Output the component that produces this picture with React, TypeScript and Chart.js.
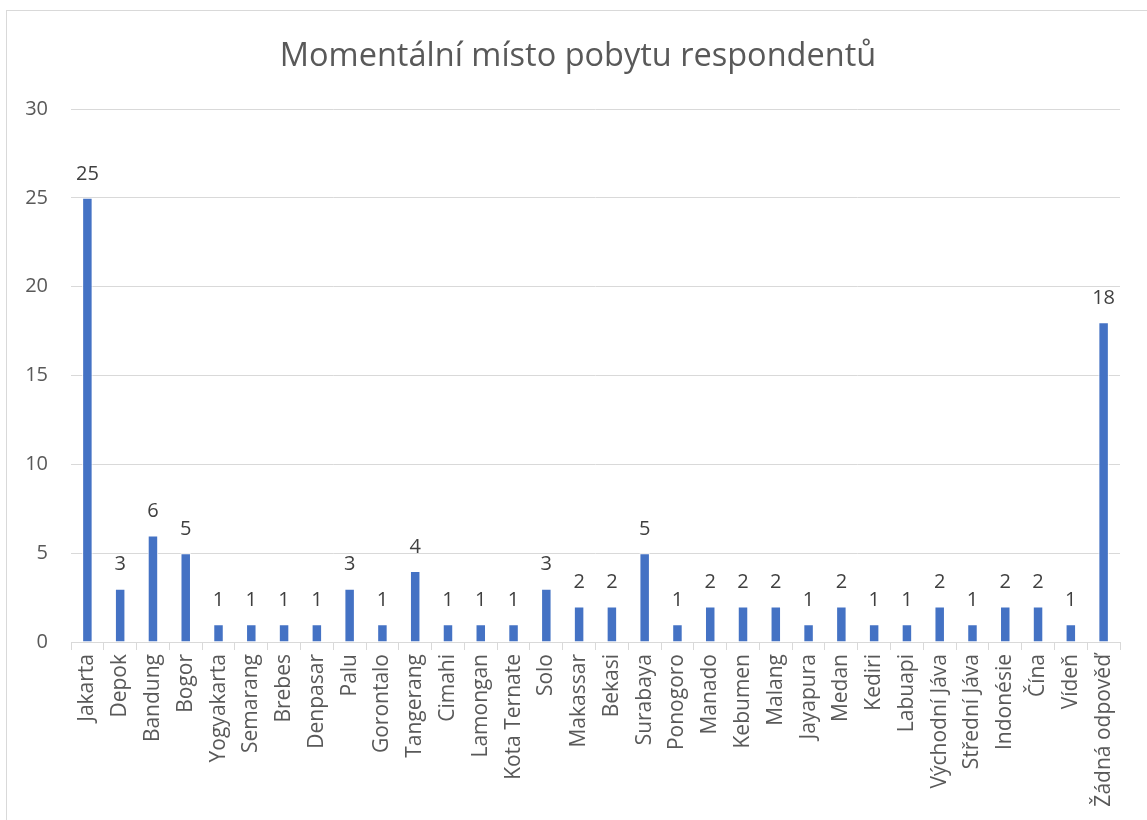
import React, { useEffect, useRef } from "react";
import { Chart, registerables } from "chart.js";

Chart.register(...registerables);

const categories = [
  "Jakarta", "Depok", "Bandung", "Bogor", "Yogyakarta", "Semarang", "Brebes", "Denpasar",
  "Palu", "Gorontalo", "Tangerang", "Cimahi", "Lamongan", "Kota Ternate", "Solo", "Makassar",
  "Bekasi", "Surabaya", "Ponogoro", "Manado", "Kebumen", "Malang", "Jayapura", "Medan",
  "Kediri", "Labuapi", "Východní Jáva", "Střední Jáva", "Indonésie", "Čína", "Vídeň", "Žádná odpověď",
];
const counts = [
  25, 3, 6, 5, 1, 1, 1, 1,
  3, 1, 4, 1, 1, 1, 3, 2,
  2, 5, 1, 2, 2, 2, 1, 2,
  1, 1, 2, 1, 2, 2, 1, 18,
];
const yTicks = [0, 5, 10, 15, 20, 25, 30];
const title = "Momentální místo pobytu respondentů";

const FONT = "'Open Sans', 'Noto Sans', sans-serif";

const dataLabels = {
  id: "dataLabels",
  afterDatasetsDraw(chart: any) {
    const ctx = chart.ctx;
    const meta = chart.getDatasetMeta(0);
    ctx.save();
    ctx.fillStyle = "#404040";
    ctx.font = `20px ${FONT}`;
    ctx.textAlign = "center";
    ctx.textBaseline = "middle";
    meta.data.forEach((bar: any, i: number) => {
      ctx.fillText(String(counts[i]), bar.x, bar.y - 24);
    });
    ctx.restore();
  },
};

const titlePlugin = {
  id: "titleText",
  afterDraw(chart: any) {
    const ctx = chart.ctx;
    ctx.save();
    ctx.fillStyle = "#595959";
    ctx.font = `32.5px ${FONT}`;
    ctx.textAlign = "center";
    ctx.textBaseline = "alphabetic";
    ctx.fillText(title, 578, 66);
    ctx.restore();
  },
};

export default function App() {
  const ref = useRef<HTMLCanvasElement>(null);
  useEffect(() => {
    if (!ref.current) return;
    const chart = new Chart(ref.current, {
      type: "bar",
      data: {
        labels: categories,
        datasets: [
          {
            data: counts,
            backgroundColor: "#4472C4",
            borderColor: "#ffffff",
            borderWidth: { left: 1, right: 1, top: 1, bottom: 0 },
            barPercentage: 0.32,
            categoryPercentage: 1,
          },
        ],
      },
      options: {
        animation: false,
        responsive: false,
        maintainAspectRatio: false,
        layout: { padding: { left: 6, right: 27, top: 109, bottom: 0 } },
        plugins: {
          legend: { display: false },
          tooltip: { enabled: false },
          title: { display: false },
        },
        scales: {
          x: {
            offset: true,
            grid: {
              offset: true,
              drawOnChartArea: false,
              drawTicks: true,
              tickLength: 8,
              color: "#d9d9d9",
            },
            border: { display: true, color: "#d9d9d9", width: 1 },
            ticks: {
              color: "#595959",
              font: { family: FONT, size: 21 },
              minRotation: 90,
              maxRotation: 90,
              autoSkip: false,
              padding: 4,
            },
            afterFit(scale: any) {
              scale.height = 178;
            },
          },
          y: {
            min: 0,
            max: 30,
            afterBuildTicks(scale: any) {
              scale.ticks = yTicks.map((v) => ({ value: v }));
            },
            grid: { color: "#d9d9d9", drawTicks: false, lineWidth: 1 },
            border: { display: false },
            ticks: {
              color: "#595959",
              font: { family: FONT, size: 20 },
              padding: 23,
            },
            afterFit(scale: any) {
              scale.width = 65;
            },
          },
        },
      },
      plugins: [dataLabels, titlePlugin],
    });
    return () => chart.destroy();
  }, []);

  return (
    <div
      style={{
        position: "fixed",
        left: 0,
        top: 0,
        width: 1147,
        height: 820,
        background: "#ffffff",
        overflow: "hidden",
      }}
    >
      <div
        style={{
          position: "absolute",
          left: 6,
          top: 10,
          width: 1160,
          height: 840,
          border: "1px solid #d9d9d9",
          boxSizing: "border-box",
        }}
      />
      <canvas
        ref={ref}
        width={1147}
        height={820}
        style={{ position: "absolute", left: 0, top: 0, width: 1147, height: 820 }}
      />
    </div>
  );
}
